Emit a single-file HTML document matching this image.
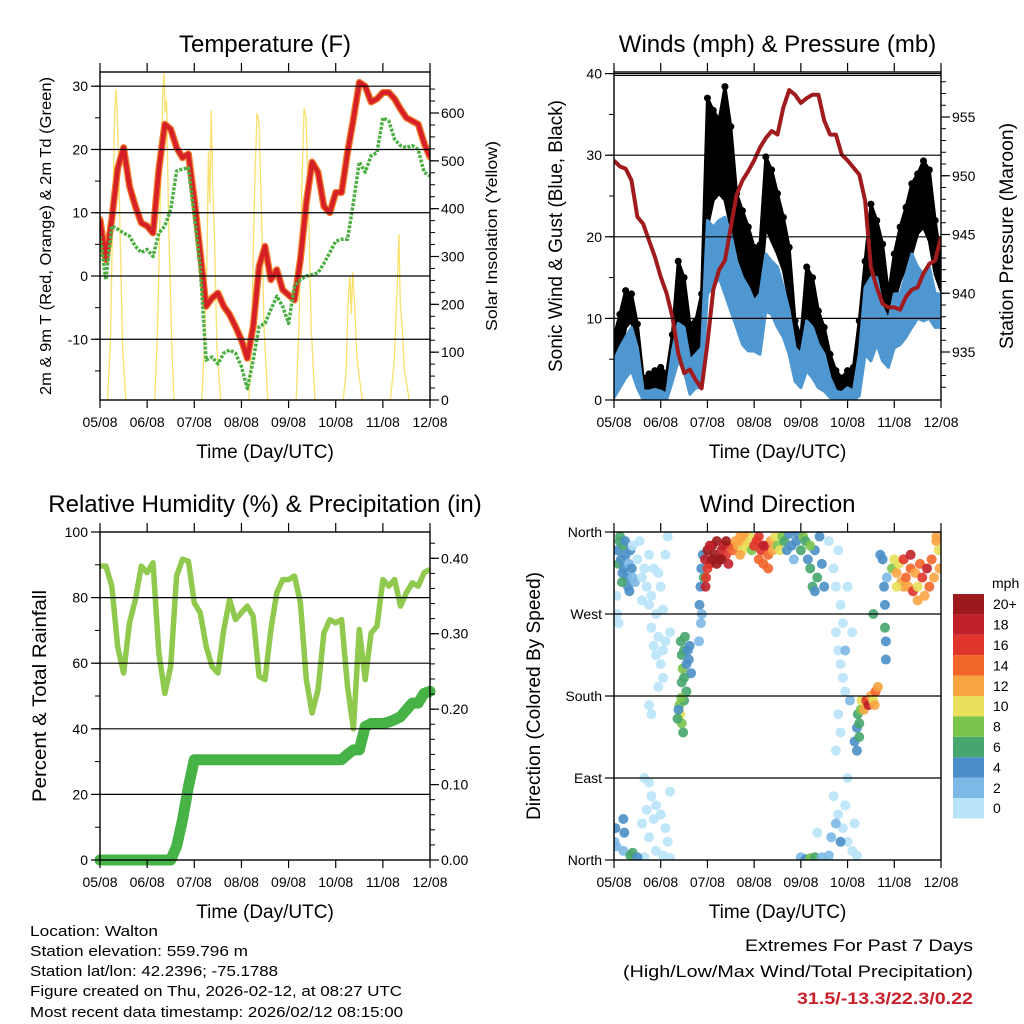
<!DOCTYPE html>
<html><head><meta charset="utf-8"><style>
html,body{margin:0;padding:0;background:#fff;}
svg{display:block;font-family:"Liberation Sans",sans-serif;}
</style></head><body>
<svg id="chart" width="1024" height="1024" viewBox="0 0 1024 1024" xmlns="http://www.w3.org/2000/svg">
<rect x="0" y="0" width="1024" height="1024" fill="#fff"/>
<g id="layer"></g>
<g font-size="15" fill="#000">
<text x="30" y="936" textLength="128" lengthAdjust="spacingAndGlyphs">Location: Walton</text>
<text x="30" y="956" textLength="218" lengthAdjust="spacingAndGlyphs">Station elevation: 559.796 m</text>
<text x="30" y="976" textLength="248" lengthAdjust="spacingAndGlyphs">Station lat/lon: 42.2396; -75.1788</text>
<text x="30" y="996" textLength="372" lengthAdjust="spacingAndGlyphs">Figure created on Thu, 2026-02-12, at 08:27 UTC</text>
<text x="30" y="1017" textLength="373" lengthAdjust="spacingAndGlyphs">Most recent data timestamp: 2026/02/12 08:15:00</text>
<text x="973" y="951" text-anchor="end" font-size="17" textLength="228" lengthAdjust="spacingAndGlyphs">Extremes For Past 7 Days</text>
<text x="973" y="977" text-anchor="end" font-size="17" textLength="350" lengthAdjust="spacingAndGlyphs">(High/Low/Max Wind/Total Precipitation)</text>
<text x="973" y="1004" text-anchor="end" font-size="17" font-weight="bold" fill="#c8202a" textLength="176" lengthAdjust="spacingAndGlyphs">31.5/-13.3/22.3/0.22</text>
</g>
</svg>
<script>
// ---------- DATA (3-hourly, day 0 = 05/08 00Z) ----------
const dayLabels = ["05/08","06/08","07/08","08/08","09/08","10/08","11/08","12/08"];
const tempF = [8.9,2.6,9,17,20.3,14.2,11,8.4,7.9,6.8,16.9,24,23.2,20.3,18.7,19.3,12.1,3.7,-4.8,-3.5,-2.7,-4.8,-6.1,-8,-10.1,-13,-8,1.5,4.7,-0.6,1,-2.2,-3,-3.8,2.6,11.6,18,16.4,11,10,13.2,13.2,19.5,24.8,30.6,30,27.5,28,29,29,28,26.4,25,24.5,24,21,18.8];
const dewF = [6.3,-0.6,7.9,7.4,6.8,6.3,4.7,3.7,4.2,3.1,6.8,7.9,10.5,16.6,16.9,17.1,9.5,1.5,-13.3,-12.8,-13.9,-12.2,-11.7,-12.2,-14.3,-17.8,-13.3,-8,-7.5,-5.3,-3.2,-4.8,-7.5,-1.6,-0.6,0,0.2,0.5,2,3.7,5.5,5.8,5.8,11.6,18,16.4,19,19.5,25,24.5,21.6,20.6,20.3,20.6,20,16.4,15.8];
const solarT = [0.16,0.22,0.27,0.31,0.34,0.38,0.43,0.48,0.55, 1.16,1.22,1.28,1.33,1.36,1.38,1.41,1.46,1.52,1.57, 2.16,2.22,2.27,2.3,2.33,2.36,2.39,2.43,2.48,2.56, 3.16,3.22,3.28,3.33,3.37,3.42,3.48,3.56, 4.16,4.22,4.28,4.33,4.37,4.42,4.48,4.56, 5.16,5.22,5.26,5.3,5.33,5.36,5.4,5.45,5.56, 6.16,6.24,6.28,6.31,6.34,6.37,6.41,6.46,6.56];
const solarW = [0,120,380,600,650,560,330,110,0, 0,140,420,640,683,600,627,360,120,0, 0,130,300,520,410,606,450,330,110,0, 0,150,440,600,580,420,150,0, 0,150,440,610,590,420,150,0, 0,60,200,260,180,267,200,90,0, 0,80,180,250,347,200,150,60,0];
const gustHi = [7.7,10.5,13.4,13,9.3,2.7,3.2,3.6,4,3.2,8,17,15,9.3,9.7,13,37,35.5,34.3,38.4,33.5,25.3,23.2,21.2,18.7,19,29.8,28.2,25.3,22.4,18.7,9.7,7.7,16.3,15,10.9,8.9,5.6,3.6,2.7,3.6,4,9.7,17,24,22,19.1,13,17.9,21.2,23.6,26.5,27.7,29.3,28.2,22,17];
const gustLo = [3.6,4.8,8.9,9.7,6.4,0.3,0.7,0.7,0.5,0.7,4.8,8.9,8.9,4.8,5.6,4.8,21.2,24.5,25.3,24.5,21.2,16.3,15,13,12.1,13,21.2,19.5,17.9,15.9,12.1,6,4,8.9,8.9,6.4,4.8,2.3,0.5,0.5,0.5,0.5,4.8,9.7,17,13.8,12.1,8.9,12.1,14.6,16.3,17.9,20.4,21.2,19.5,15.4,13.4];
const windHi = [4.8,6.4,7.7,8.9,6.4,1.1,1.1,1.3,1.1,0.7,6,9.4,8.9,4.8,5.6,6.4,22,21.2,22,22.4,20.4,17,15,13.8,12.1,13,17.9,17,16.3,13.8,10.9,6.4,5.6,9.7,8.9,6.8,5.6,2.7,1.1,0.9,1.5,1.1,5.6,13.8,15,15,11.3,9.7,13,13,15.4,17.9,16.3,15.4,16.3,13,13];
const windLo = [0.3,1.5,2.7,3.6,1.5,0,0,0,0,0,2.3,4.8,3.6,0.7,1.5,1.5,13,13.8,15,13,10.9,8.9,6.8,6,6,5.6,10.9,10.5,8.9,7.7,5.6,2.3,1.5,3.6,2.7,1.5,1.1,0.3,0,0,0,0,0.5,5.6,4.8,6.8,4.8,4,6.4,6.8,7.7,8.9,10,9.7,10,8.9,8.9];
const pressMb = [951.3,950.8,950.6,949.6,946.5,945.9,944.5,943.1,941.4,940,938,934.9,933.2,933.5,932.6,931.9,935.7,940.3,942,942.8,945.6,948.4,949.6,950.4,951.3,952.4,953.2,953.8,953.5,955.8,957.3,956.9,956.2,956.6,956.9,956.9,954.7,953.5,953.5,951.8,951.3,950.7,950.1,947.9,942.2,940.5,939.1,938.8,938.8,938.6,939.7,940.3,940.5,941.7,942.5,942.8,944.8];
const rhPct = [89.6,89.6,83.5,65,57,72.3,79.4,89.6,87.6,90.6,63,50.8,59,86.6,91.7,91.1,78.4,75.4,65.2,59,57,70.3,79.4,73.3,75.4,77.4,74.3,56,55,70.3,81.5,85.5,85.5,86.6,78.4,55,44.8,51.9,69.2,73.3,72.3,73.3,53,40,70.3,55,69.2,71.3,85.5,83.5,85.5,77.4,81.5,84.5,83.5,87.6,88.6];
const precipIn = [0,0,0,0,0,0,0,0,0,0,0,0,0,0.018,0.053,0.097,0.133,0.133,0.133,0.133,0.133,0.133,0.133,0.133,0.133,0.133,0.133,0.133,0.133,0.133,0.133,0.133,0.133,0.133,0.133,0.133,0.133,0.133,0.133,0.133,0.133,0.133,0.14,0.146,0.146,0.177,0.181,0.181,0.181,0.183,0.186,0.19,0.199,0.208,0.208,0.221,0.2235];
const dirT = [0.08,0.1,0.12,0.15,0.18,0.2,0.22,0.25,0.28,0.3,0.32,0.35,0.38,0.4,0.45,0.13,0.17,0.24,0.33,
0.05,0.07,0.1,0.4,0.5,0.55,0.6,0.65,0.7,0.75,0.8,0.85,0.95,1.0,1.1,1.15,0.6,0.75,0.9,1.05,0.8,0.85,0.95,0.9,1.0,1.05,1.1,1.2,1.05,0.95,0.75,0.8,0.65,0.75,0.8,0.7,0.85,0.9,1.0,1.1,1.15,0.75,0.9,1.05,0.65,1.2,0.6,1.2,
0.01,0.03,0.05,0.2,0.22,0.2,0.35,0.4,0.5,
1.43,1.45,1.47,1.5,1.55,1.6,1.65,1.62,1.5,1.45,1.52,1.58,1.4,1.42,1.45,1.5,1.48,1.38,1.55,1.36,1.44,
1.83,1.85,1.87,1.88,1.9,1.92,1.86,1.82,
1.95,2.0,2.05,2.1,2.15,2.2,2.25,2.3,2.35,2.4,2.45,2.5,2.55,2.0,2.1,2.2,2.3,2.4,2.05,1.97,1.96,
2.6,2.65,2.7,2.75,2.8,2.85,2.9,2.95,2.7,2.78,
3.0,3.05,3.1,3.15,3.2,3.25,3.3,3.35,3.4,3.45,3.1,3.2,3.3,
3.5,3.55,3.6,3.65,3.7,3.75,3.8,3.85,3.9,3.95,4.0,4.05,
4.1,4.15,4.2,4.25,4.3,4.35,4.4,4.45,4.5,4.2,4.3,
4.6,4.7,4.75,4.8,4.85,4.9,4.75,4.8,4.85,4.9,4.95,4.8,4.85,4.75,5.0,5.1,4.7,4.8,4.9,4.95,5.0,5.1,5.15,5.2,4.6,4.65,4.75,4.85,4.0,4.1,4.2,4.3,4.45,4.35,5.0,4.95,5.05,
5.15,5.2,5.22,5.25,5.28,5.3,5.35,5.4,5.45,5.5,5.55,5.6,5.58,5.65,5.2,5.25,
5.8,5.82,5.82,5.75,5.78,5.8,5.84,5.7,5.55,
5.95,6.0,6.05,6.1,6.15,6.2,6.25,6.3,6.35,6.4,6.45,6.5,6.55,6.6,6.65,6.7,6.75,6.8,6.85,6.9,6.95,6.97,6.2,6.5,6.35,6.05,6.9];
const dirDeg = [340,325,350,330,315,345,320,335,310,300,325,340,320,310,305,355,305,350,295,
290,270,260,345,330,350,310,320,300,335,290,320,315,300,335,355,285,280,270,275,255,235,245,225,215,230,240,250,200,190,170,160,90,85,70,55,45,60,50,35,20,25,10,5,3,2,40,75,
20,35,15,45,30,10,5,8,3,
240,225,210,230,215,220,205,235,200,195,245,230,170,160,150,175,140,165,185,155,178,
280,300,320,270,335,310,260,240,
330,340,325,345,335,350,330,340,345,335,325,345,340,320,330,325,330,350,345,310,300,
350,345,355,340,350,345,355,340,335,358,
345,350,330,340,325,345,335,350,340,355,355,345,320,
345,340,355,350,340,358,345,330,350,358,340,355,
350,330,320,300,340,310,355,325,300,345,295,
350,320,300,340,280,260,250,230,215,200,185,160,140,120,300,250,70,50,35,60,20,10,40,5,5,25,40,20,3,1,2,3,3,30,90,230,175,
130,145,160,150,165,175,165,175,170,180,175,185,170,190,120,135,
255,240,220,330,300,280,310,335,270,
320,330,315,325,305,330,310,300,320,295,315,300,325,310,290,320,300,330,310,350,340,320,300,285,335,300,355];
const dirSpd = [5,6,6,5,4,6,5,4,4,4,3,5,4,3,3,6,6,4,4,
1,1,1,1,1,1,1,1,1,1,1,1,1,1,1,1,1,1,1,1,1,1,1,1,1,1,1,1,1,1,1,1,1,1,1,1,1,1,1,1,1,1,1,1,1,1,1,1,
3,4,3,4,4,3,6,6,4,
7,6,8,7,4,4,4,5,6,7,6,5,8,10,8,7,7,5,7,6,9,
4,4,4,3,5,6,3,2,
18,20,18,20,22,22,20,18,18,16,18,16,14,16,22,20,22,20,18,16,18,
12,12,12,10,12,10,10,8,12,12,
16,16,14,16,14,18,14,12,12,10,16,18,14,
8,10,8,6,4,4,4,2,4,4,6,8,
6,4,6,6,4,6,4,4,4,9,4,
1,1,1,1,1,1,1,1,1,1,1,1,1,1,1,1,1,1,1,1,1,1,1,1,3,3,3,4,3,4,8,7,3,1,1,3,3,
4,4,6,6,8,10,12,16,18,12,10,14,12,12,4,6,
6,4,4,4,4,4,3,4,6,
8,10,12,10,12,16,14,12,14,16,12,10,14,16,12,18,14,14,12,12,10,12,12,12,18,10,12];
const speedLabels = ["0","2","4","6","8","10","12","14","16","18","20+"];
const speedColors = ["#b9e3f8","#7db9e6","#4a8fc7","#47a66e","#7bc44c","#e8e05a","#f9a443","#f26529","#e0352a","#c0202a","#9b1a1c"];
const tempTicks = [-10,0,10,20,30];
const solarTicks = [0,100,200,300,400,500,600];
const windTicks = [0,10,20,30,40];
const pressTicks = [935,940,945,950,955];
const rhTicks = [0,20,40,60,80,100];
const precipTicks = [0,0.1,0.2,0.3,0.4];
const dirTicks = [0,90,180,270,360];
const dirLabels = ["North","East","South","West","North"];

// ---------- helpers ----------
const NS = "http://www.w3.org/2000/svg";
const layer = document.getElementById("layer");
function mk(tag, attrs, parent){
  const e = document.createElementNS(NS, tag);
  for (const k in attrs) e.setAttribute(k, attrs[k]);
  (parent || layer).appendChild(e);
  return e;
}
function lin(d0,d1,r0,r1){ return v => r0 + (v-d0)*(r1-r0)/(d1-d0); }
const STEP = 0.125;

function panel(name, x0, x1, y0, y1){
  const g = mk("g", {});
  
  
  return {g, x0, x1, y0, y1, xs: lin(0,7,x0,x1)};
}
function frame(p, leftTicks, leftScale, leftFmt, rightTicks, rightScale, rightFmt, gridVals, gridScale, leftMinor, rightMinor){
  const g = mk("g", {}, p.g);
  
  
  gridVals.forEach(v => {
    const y = gridScale(v);
    const l = mk("line", {x1:p.x0, x2:p.x1, y1:y, y2:y, stroke:"#000", "stroke-width":1.2}, g);
    
    
  });
  const box = mk("rect", {x:p.x0, y:p.y0, width:p.x1-p.x0, height:p.y1-p.y0, fill:"none", stroke:"#000", "stroke-width":1.4}, g);
  
  
  dayLabels.forEach((lab,i) => {
    const x = p.xs(i);
    mk("line", {x1:x, x2:x, y1:p.y1, y2:p.y1+8, stroke:"#000", "stroke-width":1.2}, g);
    mk("line", {x1:x, x2:x, y1:p.y0, y2:p.y0-9, stroke:"#000", "stroke-width":1.2}, g);
    const t = mk("text", {x:x, y:p.y1+27, "text-anchor":"middle", "font-size":14}, g);
    t.textContent = lab;
    
    
  });
  leftTicks.forEach((v,i) => {
    const y = leftScale(v);
    mk("line", {x1:p.x0-9, x2:p.x0, y1:y, y2:y, stroke:"#000", "stroke-width":1.2}, g);
    const t = mk("text", {x:p.x0-12, y:y+5, "text-anchor":"end", "font-size":14}, g);
    t.textContent = leftFmt(v,i);
    
    
  });
  (leftMinor||[]).forEach(v => { const y = leftScale(v); mk("line", {x1:p.x0-5, x2:p.x0, y1:y, y2:y, stroke:"#000", "stroke-width":1}, g); });
  (rightTicks||[]).forEach(v => {
    const y = rightScale(v);
    mk("line", {x1:p.x1, x2:p.x1+9, y1:y, y2:y, stroke:"#000", "stroke-width":1.2}, g);
    const t = mk("text", {x:p.x1+11, y:y+5, "font-size":14}, g);
    t.textContent = rightFmt(v);
    
    
  });
  (rightMinor||[]).forEach(v => { const y = rightScale(v); mk("line", {x1:p.x1, x2:p.x1+5, y1:y, y2:y, stroke:"#000", "stroke-width":1}, g); });
  const xt = mk("text", {x:(p.x0+p.x1)/2, y:p.y1+58, "text-anchor":"middle", "font-size":19}, g);
  xt.textContent = "Time (Day/UTC)";
  
  
}
function title(p, txt){
  const t = mk("text", {x:(p.x0+p.x1)/2, y:p.y0-20, "text-anchor":"middle", "font-size":24}, p.g);
  t.textContent = txt;
  
  
}
function vtitle(p, x, txt, size, name, len){
  const cy = (p.y0+p.y1)/2;
  const a = {x:x, y:cy, transform:`rotate(-90 ${x} ${cy})`, "text-anchor":"middle", "font-size":size};
  if (len){ a.textLength = len; a.lengthAdjust = "spacingAndGlyphs"; }
  const t = mk("text", a, p.g);
  t.textContent = txt;
  
  
}
function pathFrom(vals, xs, ys, times){
  return vals.map((v,i) => (i?"L":"M") + xs(times ? times[i] : i*STEP).toFixed(1) + "," + ys(v).toFixed(1)).join("");
}
function clip(p, id){
  const defs = mk("defs", {}, p.g);
  const cp = mk("clipPath", {id:id}, defs);
  mk("rect", {x:p.x0, y:p.y0, width:p.x1-p.x0, height:p.y1-p.y0}, cp);
  const g = mk("g", {"clip-path":`url(#${id})`}, p.g);
  
  
  return g;
}
function range(a,b,s){ const r=[]; for(let v=a; v<=b+1e-9; v+=s) r.push(+v.toFixed(4)); return r; }

// ---------- Panel 1: Temperature ----------
{
  const p = panel("temperature-panel", 100, 430, 72, 400);
  const yT = lin(0,30,276,86.2);
  const yS = lin(0,600,400,113);
  const pa = clip(p, "c1");
  const sol = mk("path", {d:pathFrom(solarW, p.xs, yS, solarT), fill:"none", stroke:"#f9d949", "stroke-width":1.3, opacity:0.8}, pa);
  
  
  const o = mk("path", {d:pathFrom(tempF, p.xs, yT), fill:"none", stroke:"#f47a2a", "stroke-width":7, "stroke-linejoin":"round", "stroke-linecap":"round"}, pa);
  
  
  const r = mk("path", {d:pathFrom(tempF, p.xs, yT), fill:"none", stroke:"#d42026", "stroke-width":4.5, "stroke-linejoin":"round"}, pa);
  
  
  const gd = mk("path", {d:pathFrom(dewF, p.xs, yT), fill:"none", stroke:"#4caf43", "stroke-width":3.5, "stroke-dasharray":"3 1.5", "stroke-linejoin":"round"}, pa);
  
  
  frame(p, tempTicks, yT, v=>String(v), solarTicks, yS, v=>String(v), [-10,0,10,20,30], yT, range(-15,30,5), range(0,650,25));
  title(p, "Temperature (F)");
  vtitle(p, 51, "2m & 9m T (Red, Orange) & 2m Td (Green)", 16, "y-axis-title-left", 318);
  vtitle(p, 497, "Solar Insolation (Yellow)", 16, "y-axis-title-right", 190);
}

// ---------- Panel 2: Winds & Pressure ----------
{
  const p = panel("winds-panel", 614, 941, 72, 400);
  const yW = lin(0,40,400,73.6);
  const yP = lin(935,955,352,117);
  const pa = clip(p, "c2");
  const n = gustHi.length;
  let d = "";
  for (let i=0;i<n;i++) d += (i?"L":"M") + p.xs(i*STEP) + "," + yW(gustHi[i]);
  for (let i=n-1;i>=0;i--) d += "L" + p.xs(i*STEP) + "," + yW(gustLo[i]);
  const gb = mk("path", {d:d+"Z", fill:"#000", stroke:"#000", "stroke-width":3, "stroke-linejoin":"round"}, pa);
  
  
  gustHi.forEach((v,i) => {
    const c = mk("circle", {cx:p.xs(i*STEP), cy:yW(v), r:3.5, fill:"#000"}, pa);
    
    
  });
  let d2 = "";
  for (let i=0;i<n;i++) d2 += (i?"L":"M") + p.xs(i*STEP) + "," + yW(windHi[i]);
  for (let i=n-1;i>=0;i--) d2 += "L" + p.xs(i*STEP) + "," + yW(windLo[i]);
  const wb = mk("path", {d:d2+"Z", fill:"#4f97d0", stroke:"#4f97d0", "stroke-width":3, "stroke-linejoin":"round"}, pa);
  
  
  const pl = mk("path", {d:pathFrom(pressMb, p.xs, yP), fill:"none", stroke:"#a01b1d", "stroke-width":4, "stroke-linejoin":"round"}, pa);
  
  
  frame(p, windTicks, yW, v=>String(v), pressTicks, yP, v=>String(v), [10,20,30,40], yW, range(0,40,5), range(932,958,1));
  mk("line", {x1:p.x0, x2:p.x1, y1:75.5, y2:75.5, stroke:"#000", "stroke-width":1}, p.g);
  title(p, "Winds (mph) & Pressure (mb)");
  vtitle(p, 562, "Sonic Wind & Gust (Blue, Black)", 19, "y-axis-title-left", 272);
  vtitle(p, 1013, "Station Pressure (Maroon)", 19, "y-axis-title-right", 226);
}

// ---------- Panel 3: RH & Precip ----------
{
  const p = panel("humidity-panel", 100, 430, 532, 860);
  const yR = lin(0,100,860,532);
  const yI = lin(0,0.4,860,558.3);
  const pa = clip(p, "c3");
  const rl = mk("path", {d:pathFrom(rhPct, p.xs, yR), fill:"none", stroke:"#8fc94e", "stroke-width":5.5, "stroke-linejoin":"round"}, pa);
  
  
  const pr = mk("path", {d:pathFrom(precipIn, p.xs, yI), fill:"none", stroke:"#47b246", "stroke-width":11, "stroke-linejoin":"round", "stroke-linecap":"round"}, p.g);
  
  
  frame(p, rhTicks, yR, v=>String(v), precipTicks, yI, v=>v.toFixed(2), [20,40,60,80], yR, range(0,100,10), range(0,0.43,0.02));
  title(p, "Relative Humidity (%) & Precipitation (in)");
  vtitle(p, 46, "Percent & Total Rainfall", 19, "y-axis-title-left", 212);
}

// ---------- Panel 4: Wind direction ----------
{
  const p = panel("wind-direction-panel", 614, 941, 532, 860);
  const yD = lin(0,360,860,532);
  const pa = clip(p, "c4");
  const bin = s => Math.max(0, Math.min(10, Math.floor(s/2)));
  dirT.forEach((t,i) => {
    const c = mk("circle", {cx:p.xs(t), cy:yD(dirDeg[i]), r:5, fill:speedColors[bin(dirSpd[i])], opacity:0.9}, pa);
    
    
  });
  frame(p, dirTicks, yD, (v,i)=>dirLabels[i], [], null, null, [90,180,270], yD, [], []);
  title(p, "Wind Direction");
  vtitle(p, 540, "Direction (Colored By Speed)", 19, "y-axis-title-left", 248);
  const lg = mk("g", {}, p.g);
  
  
  const mt = mk("text", {x:992, y:588, "font-size":14}, lg);
  mt.textContent = "mph";
  
  
  const h = 20.4;
  speedLabels.forEach((lab,i) => {
    const y = 594 + (10-i)*h;
    const r = mk("rect", {x:953, y:y, width:31, height:h, fill:speedColors[i]}, lg);
    
    
    const t = mk("text", {x:993, y:y+h/2+5, "font-size":14}, lg);
    t.textContent = lab;
    
    
  });
}
</script>
</body></html>
